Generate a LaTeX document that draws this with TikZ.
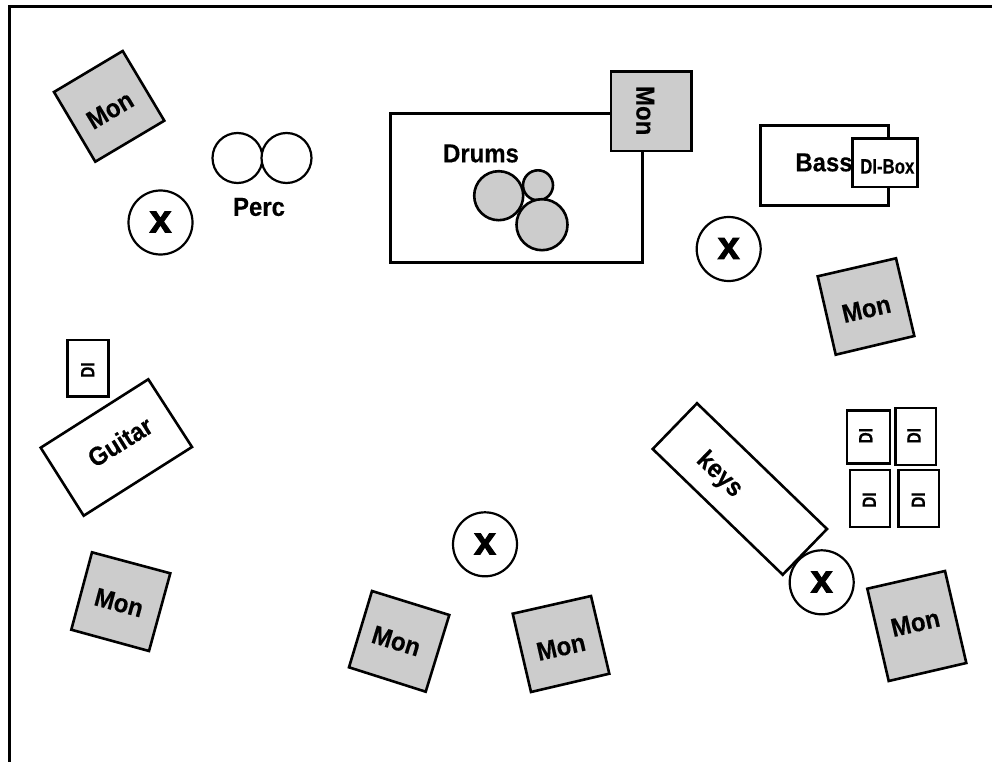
\documentclass[tikz,border=0pt]{standalone}
\usepackage{fontspec}
\setmainfont{Liberation Sans}[BoldFont={Liberation Sans Bold},BoldFeatures={FakeBold=0.3}]
\newfontfamily\crossfont{Liberation Sans Bold}[FakeBold=2.5]
\definecolor{mongray}{HTML}{CCCCCC}
\tikzset{
  x=1pt,y=-1pt,
  outline/.style={draw=black,line width=2.6pt,line join=miter},
  mon/.style={outline,fill=mongray},
  plain/.style={outline,fill=white},
  ringpos/.style={draw=black,line width=2.2pt,fill=white},
  label/.style={inner sep=0pt,font=\fontsize{26}{28}\selectfont\bfseries,xscale=.92},
  dilabel/.style={inner sep=0pt,font=\fontsize{19}{21}\selectfont\bfseries,xscale=.8},
  cross/.style={inner sep=0pt,font=\fontsize{39}{41}\crossfont},
}
\begin{document}
\begin{tikzpicture}
\useasboundingbox (0,0) rectangle (992,762);
\fill[white] (0,0) rectangle (992,762);
% stage edge
\draw[line width=3pt,line cap=butt,line join=miter] (9.5,762) -- (9.5,6.7) -- (992,6.7);

% Percussion
\draw[ringpos] (237.5,158) circle (25);
\draw[ringpos] (286.5,158) circle (25);
\node[label] (perc) at (259,207) {Perc};

% Top-left monitor and position
\draw[mon] (122.7,51) -- (164.3,120.7) -- (95.3,161.7) -- (54,92) -- cycle;
\node[rotate=30.8,label] (mon1) at (110,110) {Mon};
\draw[ringpos] (160.5,222.5) circle (32);
\node[cross] (x1) at (160.5,222) {x};

% Drums
\draw[plain] (390.7,113.3) rectangle (642.3,262.7);
\node[label] (drums) at (481,153.5) {Drums};
\draw[mon] (498.7,195.7) circle (24.5);
\draw[mon] (538,185.3) circle (15);
\draw[mon] (542,224.7) circle (25.5);
\draw[mon] (611,71.3) rectangle (691.7,151);
\node[rotate=-90,label] (mon2) at (645.3,110.7) {Mon};

% Bass
\draw[plain] (760.3,125.3) rectangle (888.7,205.3);
\node[label] (bass) at (824,162.5) {Bass};
\draw[plain] (852.7,138.7) rectangle (917.7,187);
\node[inner sep=0pt,font=\fontsize{21}{23}\selectfont\bfseries,xscale=.8] (dibox) at (887.3,166.5) {DI-Box};
\draw[ringpos] (728.7,249) circle (32);
\node[cross] (x2) at (728.7,248.5) {x};
\draw[mon] (896,258.3) -- (914.3,336) -- (835.7,354.7) -- (817.7,276.3) -- cycle;
\node[rotate=13,label] (mon3) at (866.3,309) {Mon};

% Keys
\draw[plain] (697,403.3) -- (827,529) -- (782.7,574.7) -- (652.7,449) -- cycle;
\node[rotate=-44,label] (keys) at (719.3,475) {keys};
\draw[ringpos] (821.7,582.3) circle (32);
\node[cross] (x3) at (821.7,582) {x};
\draw[mon] (945,571) -- (966.3,663) -- (888.7,681) -- (867.3,588.7) -- cycle;
\node[rotate=13,label] (mon4) at (915.3,623) {Mon};
\draw[plain] (847,410.3) rectangle (890,463.3);
\node[rotate=90,dilabel] (di1) at (865.7,435.7) {DI};
\draw[plain] (895.3,408) rectangle (936,465);
\node[rotate=90,dilabel] (di2) at (914,435.7) {DI};
\draw[plain] (850,470) rectangle (890,527);
\node[rotate=90,dilabel] (di3) at (869.3,500) {DI};
\draw[plain] (898.3,470) rectangle (939,527);
\node[rotate=90,dilabel] (di4) at (918.3,500) {DI};

% Guitar
\draw[plain] (67.3,340) rectangle (108.3,396.7);
\node[rotate=90,dilabel] (di5) at (87.7,370) {DI};
\draw[plain] (148.3,379.3) -- (192,447) -- (83.7,515.7) -- (40.7,447.7) -- cycle;
\node[rotate=32,label] (guitar) at (120,441.7) {Guitar};
\draw[mon] (92,552.3) -- (170.3,573.3) -- (149,651) -- (71.3,629.7) -- cycle;
\node[rotate=-15,label] (mon5) at (119,602.7) {Mon};

% Centre
\draw[ringpos] (485,544.3) circle (32);
\node[cross] (x4) at (485,544) {x};
\draw[mon] (372,591) -- (449.3,615) -- (425.7,691.7) -- (349,667.3) -- cycle;
\node[rotate=-17,label] (mon6) at (396.3,641) {Mon};
\draw[mon] (512.7,613.7) -- (591,596) -- (609.3,673.7) -- (531,692) -- cycle;
\node[rotate=12.7,label] (mon7) at (561,647) {Mon};
\end{tikzpicture}
\end{document}
